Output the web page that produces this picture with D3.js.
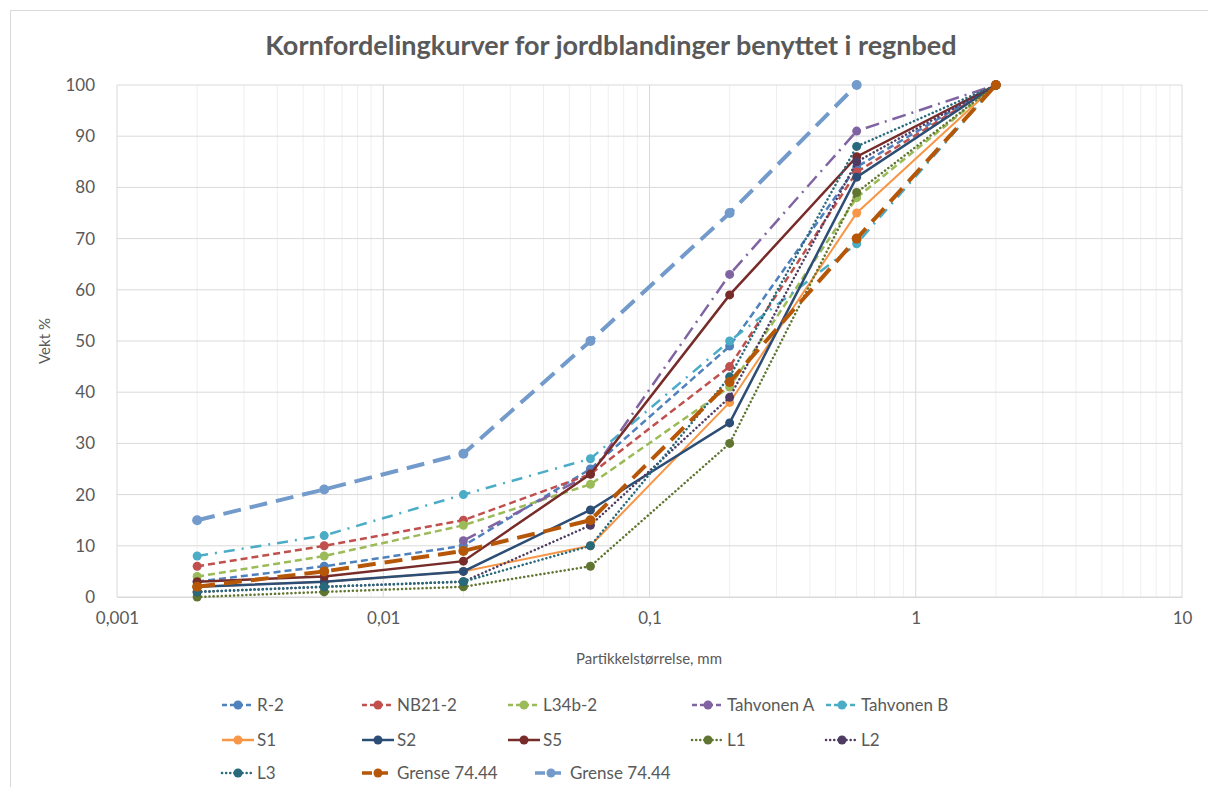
<!DOCTYPE html>
<html><head><meta charset="utf-8">
<script src="https://cdn.jsdelivr.net/npm/d3@7"></script>
<style>body{margin:0;background:#fff}svg{display:block}text{font-family:Lato,"Open Sans",sans-serif}</style>
</head><body><svg id="c" width="1208" height="787"></svg>
<script>
const sizes = [0.002, 0.006, 0.02, 0.06, 0.2, 0.6, 2];
const seriesNames = ["R-2","NB21-2","L34b-2","Tahvonen A","Tahvonen B","S1","S2","S5","L1","L2","L3","Grense 74.44","Grense 74.44"];
const R2 = [3, 6, 10, 25, 49, 84, 100];
const NB21 = [6, 10, 15, 24, 45, 83, 100];
const L34b = [4, 8, 14, 22, 41, 78, 100];
const TahA = [null, null, 11, 24, 63, 91, 100];
const TahB = [8, 12, 20, 27, 50, 69, 100];
const S1 = [2, 3, 5, 10, 38, 75, 100];
const S2 = [2, 3, 5, 17, 34, 82, 100];
const S5 = [3, 4, 7, 24, 59, 86, 100];
const L1 = [0, 1, 2, 6, 30, 79, 100];
const L2 = [1, 2, 3, 14, 39, 85, 100];
const L3 = [1, 2, 3, 10, 43, 88, 100];
const GrenseO = [2, 5, 9, 15, 42, 70, 100];
const GrenseB = [15, 21, 28, 50, 75, 100, null];
const xTicks = ["0,001","0,01","0,1","1","10"];
const yTicks = [0,10,20,30,40,50,60,70,80,90,100];

const values = [R2,NB21,L34b,TahA,TahB,S1,S2,S5,L1,L2,L3,GrenseO,GrenseB];
const colors = ["#4F81BD","#C0504D","#9BBB59","#8064A2","#4BACC6","#F79646","#2C4D75","#772C2A","#5F7530","#4D3B62","#276A7C","#B65708","#729ACA"];
const dashes = ["7,4","7,4","7,4","14,6,2,6","11,7,2,7",null,null,null,"0.1,4","0.1,4","0.1,4","18,9","18,9"];
const widths = [2.5,2.5,2.5,2.5,2.5,2,2.5,2.5,2.5,2.5,2.5,4,4];

const svg = d3.select("#c");
svg.append("rect").attr("x",10.5).attr("y",10.5).attr("width",1200).attr("height",780).attr("fill","#fff").attr("stroke","#d9d9d9");

const L=117, Rr=1182, T=85, B=597;
const x = d3.scaleLog().domain([0.001,10]).range([L,Rr]);
const y = d3.scaleLinear().domain([0,100]).range([B,T]);

const minor=[];
for(let e=-3;e<1;e++){for(let k=2;k<10;k++)minor.push(k*Math.pow(10,e));}
svg.append("g").selectAll("line").data(minor).join("line")
  .attr("x1",d=>x(d)).attr("x2",d=>x(d)).attr("y1",T).attr("y2",B)
  .attr("stroke","#efefef").attr("stroke-width",1);
const majors=[0.001,0.01,0.1,1,10];
svg.append("g").selectAll("line").data(majors).join("line")
  .attr("x1",d=>x(d)).attr("x2",d=>x(d)).attr("y1",T).attr("y2",B)
  .attr("stroke","#d9d9d9").attr("stroke-width",1);
svg.append("g").selectAll("line").data(yTicks).join("line")
  .attr("x1",L).attr("x2",Rr).attr("y1",d=>y(d)).attr("y2",d=>y(d))
  .attr("stroke","#d9d9d9").attr("stroke-width",1);

const ya = svg.append("g").attr("transform",`translate(${L},0)`).call(d3.axisLeft(y).tickValues(yTicks).tickSize(0).tickPadding(22));
ya.select(".domain").remove();
ya.selectAll("text").attr("font-size",17).attr("fill","#595959").style("font-family","Lato,sans-serif");
const xa = svg.append("g").attr("transform",`translate(0,${B})`).call(d3.axisBottom(x).tickValues(majors).tickFormat((d,i)=>xTicks[i]).tickSize(0).tickPadding(15));
xa.select(".domain").attr("stroke","#d9d9d9");
xa.selectAll("text").attr("font-size",17).attr("fill","#595959").style("font-family","Lato,sans-serif");

svg.append("text").attr("x",649).attr("y",664).attr("text-anchor","middle").attr("font-size",15).attr("fill","#595959").text("Partikkelstørrelse, mm");
svg.append("text").attr("transform","translate(50,341) rotate(-90)").attr("text-anchor","middle").attr("font-size",15).attr("fill","#595959").text("Vekt %");
svg.append("text").attr("x",611).attr("y",55).attr("text-anchor","middle").attr("font-size",27).attr("font-weight","bold").attr("fill","#595959").text("Kornfordelingkurver for jordblandinger benyttet i regnbed");

const line = d3.line().defined(d=>d[1]!=null).x(d=>x(d[0])).y(d=>y(d[1]));
values.forEach((vals,i)=>{
  const pts = sizes.map((s,j)=>[s,vals[j]]);
  const g = svg.append("g");
  g.append("path").datum(pts).attr("d",line).attr("fill","none").attr("stroke",colors[i])
    .attr("stroke-width",widths[i]).attr("stroke-dasharray",dashes[i]).attr("stroke-linecap",dashes[i]&&dashes[i].startsWith("0.1")?"round":"butt");
  g.selectAll("circle").data(pts.filter(d=>d[1]!=null)).join("circle")
    .attr("cx",d=>x(d[0])).attr("cy",d=>y(d[1])).attr("r",i>=11?5:4.5).attr("fill",colors[i]);
});

const legPos = [[222,705],[362,705],[508,705],[692,705],[826,705],
                [222,740],[362,740],[508,740],[692,740],[826,740],
                [222,773],[362,773],[535,773]];
legPos.forEach((p,i)=>{
  const g = svg.append("g").attr("transform",`translate(${p[0]},${p[1]})`);
  g.append("line").attr("x1",0).attr("x2",32).attr("y1",0).attr("y2",0).attr("stroke",colors[i])
    .attr("stroke-width",widths[i]>3?3.5:2.5).attr("stroke-dasharray",dashes[i]?(dashes[i].startsWith("0.1")?"0.1,4":(i>=11?"10,6":"5,3")):null)
    .attr("stroke-linecap",dashes[i]&&dashes[i].startsWith("0.1")?"round":"butt");
  g.append("circle").attr("cx",16).attr("cy",0).attr("r",4.5).attr("fill",colors[i]);
  g.append("text").attr("x",35).attr("y",6).attr("font-size",17).attr("fill","#595959").text(seriesNames[i]);
});
</script></body></html>
